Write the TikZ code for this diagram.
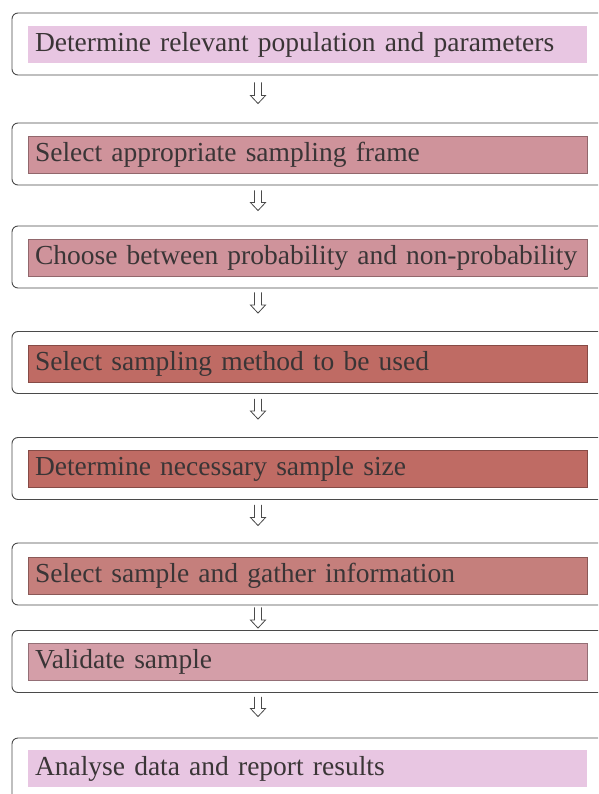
\documentclass[tikz,border=0pt]{standalone}
\usepackage{fontspec}
\setmainfont{Liberation Serif}
\usetikzlibrary{arrows.meta, positioning, calc}
\definecolor{FrameLine}{HTML}{4A4A4A}
\definecolor{StepText}{HTML}{3A3536}
\definecolor{StepLilac}{HTML}{E8C6E2}
\definecolor{StepRose}{HTML}{CF939B}
\definecolor{StepRust}{HTML}{BF6B64}
\definecolor{StepClay}{HTML}{C57F7C}
\definecolor{StepPink}{HTML}{D49EA8}

\begin{document}
\begin{tikzpicture}[
        x=1pt, y=-1pt,
        every node/.style={font=\fontsize{27.5}{32}\selectfont, text=StepText},
        frame/.style={rectangle, rounded corners=6pt, draw=FrameLine, line width=0.9pt, minimum width=600pt, minimum height=62pt, inner sep=0pt},
        stepbox/.style={rectangle, minimum width=559pt, minimum height=37pt, text width=545pt, align=left, inner xsep=7pt, inner ysep=0pt},
        flowline/.style={draw=FrameLine, line width=0.8pt, fill=white, line join=miter}
    ]
        \useasboundingbox (0,0) rectangle (598,794);
        \clip (0,0) rectangle (598,794);

        % outer frames
        \node[frame] (f1) at (312,44) {};
        \node[frame] (f2) at (312,154) {};
        \node[frame] (f3) at (312,257) {};
        \node[frame] (f4) at (312,362.5) {};
        \node[frame] (f5) at (312,468.5) {};
        \node[frame] (f6) at (312,574) {};
        \node[frame] (f7) at (312,661.5) {};
        \node[frame] (f8) at (312,769) {};

        % filled steps
        \node[stepbox, fill=StepLilac] (s1) at (307.5,44.5) {Determine relevant population and parameters};
        \node[stepbox, fill=StepRose, draw=StepRose!70!black, thin] (s2) at (307.5,154.5) {Select appropriate sampling frame};
        \node[stepbox, fill=StepRose, draw=StepRose!70!black, thin] (s3) at (307.5,258) {Choose between probability and non-probability};
        \node[stepbox, fill=StepRust, draw=StepRust!70!black, thin] (s4) at (307.5,363.5) {Select sampling method to be used};
        \node[stepbox, fill=StepRust, draw=StepRust!70!black, thin] (s5) at (307.5,468.5) {Determine necessary sample size};
        \node[stepbox, fill=StepClay, draw=StepClay!70!black, thin] (s6) at (307.5,575.5) {Select sample and gather information};
        \node[stepbox, fill=StepPink, draw=StepPink!70!black, thin] (s7) at (307.5,661.5) {Validate sample};
        \node[stepbox, fill=StepLilac] (s8) at (307.5,768.5) {Analyse data and report results};

        % hollow arrows between frames (from/to/gap above/gap below)
        \foreach \a/\b/\s/\e in {1/2/7/19, 2/3/5/15, 3/4/4/18, 4/5/5/18, 5/6/5/17, 6/7/2/2, 7/8/4/21} {
            \coordinate (t\a) at ($(f\a.south -| 258,0)+(0,\s)$);
            \coordinate (b\a) at ($(f\b.north -| 258,0)+(0,-\e)$);
            \draw[flowline] ($(t\a)+(-3.5,0)$) -- ($(b\a)+(-3.5,-8)$) -- ++(-4,0) -- (b\a)
                -- ++(7.5,-8) -- ++(-4,0) -- ($(t\a)+(3.5,0)$);
        }
    \end{tikzpicture}
\end{document}
